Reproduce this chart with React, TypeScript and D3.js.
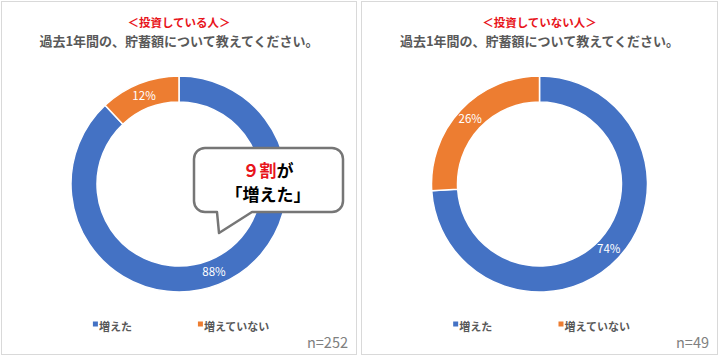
import * as d3 from 'd3';
import React from 'react';

const W = 720;
const H = 358;

const categories = ['増えた', '増えていない'];
const colors = ['#4472C4', '#ED7D31'];
const groupTitles = ['＜投資している人＞', '＜投資していない人＞'];
const question = '過去1年間の、貯蓄額について教えてください。';
const investorShares = [88, 12];
const nonInvestorShares = [74, 26];
const sampleSizes = [252, 49];

const FONT = '"Noto Sans CJK JP", "Noto Sans", sans-serif';

const panels = [
  { x: 1, w: 356, title: groupTitles[0], values: investorShares, n: sampleSizes[0] },
  { x: 361, w: 357, title: groupTitles[1], values: nonInvestorShares, n: sampleSizes[1] }
];

const pie = d3.pie<number>().sort(null).startAngle(0).endAngle(2 * Math.PI);
const arc = d3.arc<d3.PieArcDatum<number>>().outerRadius(108).innerRadius(82);
const labelArc = d3.arc<d3.PieArcDatum<number>>().outerRadius(95).innerRadius(95);

const Panel = ({ p }: { p: typeof panels[0] }) => {
  const cx = p.x + p.w / 2;
  const cy = 184;
  const slices = pie(p.values);
  const legendX = d3.scaleOrdinal<string, number>()
    .domain(categories)
    .range([p.x + p.w * 0.275, p.x + p.w * 0.57]);
  return (
    <g>
      <rect x={p.x + 0.5} y={1.5} width={p.w - 1} height={353} fill="#fff" stroke="#d9d9d9" strokeWidth={1} />
      <text x={cx} y={27} textAnchor="middle" fontSize={11.5} fontWeight={700} fill="#e8141b">{p.title}</text>
      <text x={cx} y={46} textAnchor="middle" fontSize={13} fontWeight={700} fill="#595959">{question}</text>
      <g transform={`translate(${cx},${cy})`}>
        {slices.map((s, i) => (
          <path key={i} d={arc(s) || ''} fill={colors[i]} stroke="#fff" strokeWidth={1.5} />
        ))}
        {slices.map((s, i) => {
          const [lx, ly] = labelArc.centroid(s);
          return (
            <text key={'l' + i} x={lx} y={ly} dy="0.35em" textAnchor="middle" fontSize={11.5} fill="#fff">
              {p.values[i]}%
            </text>
          );
        })}
      </g>
      {categories.map((c, i) => (
        <g key={c} transform={`translate(${legendX(c)},${327})`}>
          <rect x={-6} y={-5.5} width={5} height={5} fill={colors[i]} />
          <text x={0} y={0} dy="0.35em" fontSize={11} fontWeight={700} fill="#595959">{c}</text>
        </g>
      ))}
      <text x={p.x + p.w - 9} y={343} dy="0.35em" textAnchor="end" fontSize={14.5} fill="#808080">n={p.n}</text>
    </g>
  );
};

// callout bubble: rounded box with a tail pointing down
const bubblePath = () => {
  const x0 = 194, y0 = 148, x1 = 343, y1 = 212, r = 11;
  const p = d3.path();
  p.moveTo(x0 + r, y0);
  p.lineTo(x1 - r, y0);
  p.arcTo(x1, y0, x1, y0 + r, r);
  p.lineTo(x1, y1 - r);
  p.arcTo(x1, y1, x1 - r, y1, r);
  p.lineTo(252, y1);
  p.lineTo(219, 233);
  p.lineTo(217, y1);
  p.lineTo(x0 + r, y1);
  p.arcTo(x0, y1, x0, y1 - r, r);
  p.lineTo(x0, y0 + r);
  p.arcTo(x0, y0, x0 + r, y0, r);
  p.closePath();
  return p.toString();
};

const App = () => (
  <svg width={W} height={H} style={{ position: 'absolute', left: 0, top: 0, fontFamily: FONT }}>
    <rect width={W} height={H} fill="#fff" />
    {panels.map((p, i) => <Panel key={i} p={p} />)}
    <path d={bubblePath()} fill="#fff" stroke="#767676" strokeWidth={2.5} strokeLinejoin="round" />
    <text x={268} y={171} dy="0.35em" textAnchor="middle" fontSize={17} fontWeight={700} fill="#000">
      <tspan fill="#e8141b">９割</tspan>が
    </text>
    <text x={268} y={195} dy="0.35em" textAnchor="middle" fontSize={17} fontWeight={700} fill="#000">「増えた」</text>
  </svg>
);

export default App;
